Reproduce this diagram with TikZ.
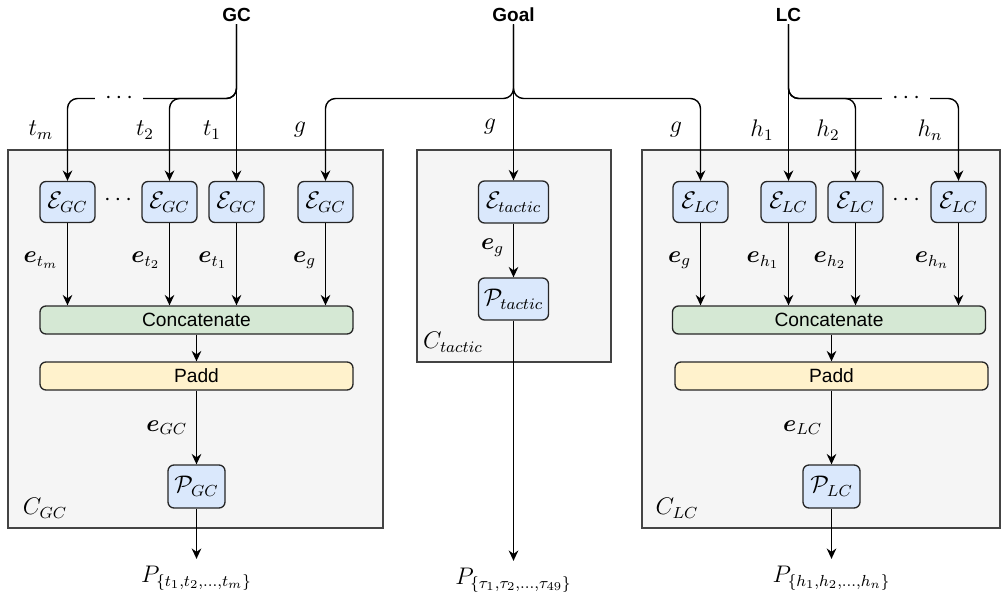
\documentclass[tikz,border=0pt]{standalone}
\usepackage{fontspec}
\usepackage{bm}
\newfontfamily\drawfont{Liberation Sans}
\usetikzlibrary{arrows.meta}

\definecolor{encblue}{HTML}{DAE8FC}
\definecolor{catgreen}{HTML}{D5E8D4}
\definecolor{padyellow}{HTML}{FFF2CC}
\definecolor{boxgray}{HTML}{F5F5F5}
\definecolor{boxline}{HTML}{444444}

\tikzset{
  every node/.style={font=\fontsize{12}{14}\selectfont},
  container/.style={draw=boxline, fill=boxgray, line width=0.65pt, inner sep=0pt},
  enc/.style={draw=black!85, fill=encblue, rounded corners=3pt, line width=0.65pt,
    minimum width=27.5pt, minimum height=20.5pt, inner sep=1pt},
  wide/.style={draw=black!85, rounded corners=3pt, line width=0.65pt,
    minimum width=156.5pt, minimum height=14pt, inner sep=0pt,
    font=\drawfont\fontsize{9.6}{11}\selectfont},
  src/.style={font=\drawfont\bfseries\fontsize{9.5}{11}\selectfont, inner sep=1pt},
  arr/.style={->, line width=0.7pt},
  branch/.style={->, line width=0.7pt, rounded corners=5pt},
  gap/.style={fill=white, inner xsep=5pt, inner ysep=1pt}
}

\begin{document}
\begin{tikzpicture}[x=0.5pt, y=-0.5pt, >={Stealth[length=5.2pt,width=4.8pt]}]
\useasboundingbox (0,0) rectangle (1006,600);

% Containers
\node[container, minimum width=187.5pt, minimum height=189pt] (boxGC) at (195.5,339) {};
\node[container, minimum width=97pt, minimum height=106pt] (boxT) at (514,256) {};
\node[container, minimum width=179pt, minimum height=189pt] (boxLC) at (821,339) {};
\node at (45,508) {$C_{GC}$};
\node at (453,342) {$C_{tactic}$};
\node at (677,508) {$C_{LC}$};

% Sources
\node[src] (GC) at (236.5,15) {GC};
\node[src] (Goal) at (513.5,15) {Goal};
\node[src] (LC) at (788.5,15) {LC};
\coordinate (splitGC) at (236.5,98.5);
\coordinate (splitGoal) at (513.5,98.5);
\coordinate (splitLC) at (788.5,98.5);

% GC encoders
\node[enc] (eGCm) at (67.5,202) {$\mathcal{E}_{GC}$};
\node[enc] (eGCtwo) at (169.5,202) {$\mathcal{E}_{GC}$};
\node[enc] (eGCone) at (236.5,202) {$\mathcal{E}_{GC}$};
\node[enc] (eGCg) at (325.5,202) {$\mathcal{E}_{GC}$};
\node (dotsGCenc) at (118,200) {$\cdots$};
\node[wide, fill=catgreen] (catGC) at (196.5,320) {Concatenate};
\node[wide, fill=padyellow] (padGC) at (196.5,376) {Padd};
\node[enc, minimum width=28.5pt, minimum height=21.5pt] (pGC) at (196.5,486.5) {$\mathcal{P}_{GC}$};
\node (outGC) at (196.5,578) {$P_{\{t_1,t_2,\dots,t_m\}}$};

% Tactic
\node[enc, minimum width=35pt, minimum height=21pt] (etactic) at (513.5,202) {$\mathcal{E}_{tactic}$};
\node[enc, minimum width=35pt, minimum height=21pt] (ptactic) at (513.5,299) {$\mathcal{P}_{tactic}$};
\node (outT) at (513.5,580) {$P_{\{\tau_1,\tau_2,\dots,\tau_{49}\}}$};

% LC encoders
\node[enc] (eLCg) at (700.5,202) {$\mathcal{E}_{LC}$};
\node[enc] (eLCone) at (788.5,202) {$\mathcal{E}_{LC}$};
\node[enc] (eLCtwo) at (855.5,202) {$\mathcal{E}_{LC}$};
\node[enc] (eLCn) at (958.5,202) {$\mathcal{E}_{LC}$};
\node (dotsLCenc) at (906,200) {$\cdots$};
\node[wide, fill=catgreen] (catLC) at (829,320) {Concatenate};
\node[wide, fill=padyellow] (padLC) at (831.5,376) {Padd};
\node[enc, minimum width=28.5pt, minimum height=21.5pt] (pLC) at (831.5,486.5) {$\mathcal{P}_{LC}$};
\node (outLC) at (831.5,578) {$P_{\{h_1,h_2,\dots,h_n\}}$};

% Inputs from GC
\draw[arr] (GC.south) -- (eGCone.north);
\draw[branch] (GC.south) -- (splitGC) -| (eGCtwo.north);
\draw[branch] (GC.south) -- (splitGC) -| (eGCm.north);
\node[gap] (dotsGC) at (119,98) {$\cdots$};

% Inputs from goal
\draw[arr] (Goal.south) -- (etactic.north);
\draw[branch] (Goal.south) -- (splitGoal) -| (eGCg.north);
\draw[branch] (Goal.south) -- (splitGoal) -| (eLCg.north);

% Inputs from LC
\draw[arr] (LC.south) -- (eLCone.north);
\draw[branch] (LC.south) -- (splitLC) -| (eLCtwo.north);
\draw[branch] (LC.south) -- (splitLC) -| (eLCn.north);
\node[gap] (dotsLC) at (906,98) {$\cdots$};

% Input labels
\node at (41,130) {$t_m$};
\node at (145,130) {$t_2$};
\node at (212,130) {$t_1$};
\node at (300,130) {$g$};
\node at (490,127) {$g$};
\node at (676,130) {$g$};
\node at (762,130) {$h_1$};
\node at (828,130) {$h_2$};
\node at (930,130) {$h_n$};

% Embeddings into concatenation
\foreach \e/\lab in {eGCm/t_m, eGCtwo/t_2, eGCone/t_1, eGCg/g} {
  \draw[arr] (\e.south) -- (\e.south |- catGC.north)
    node[pos=0.45, left=1pt] {$\bm{e}_{\lab}$};
}
\foreach \e/\lab in {eLCg/g, eLCone/h_1, eLCtwo/h_2, eLCn/h_n} {
  \draw[arr] (\e.south) -- (\e.south |- catLC.north)
    node[pos=0.45, left=1pt] {$\bm{e}_{\lab}$};
}

% GC head
\draw[arr] (catGC.south) -- (padGC.north);
\draw[arr] (padGC.south) -- (pGC.north) node[pos=0.5, left=1pt] {$\bm{e}_{GC}$};
\draw[arr] (pGC.south) -- (outGC.north);

% Tactic head
\draw[arr] (etactic.south) -- (ptactic.north) node[pos=0.45, left=1pt] {$\bm{e}_{g}$};
\draw[arr] (ptactic.south) -- (outT.north);

% LC head
\draw[arr] (catLC.south -| padLC.north) -- (padLC.north);
\draw[arr] (padLC.south) -- (pLC.north) node[pos=0.5, left=1pt] {$\bm{e}_{LC}$};
\draw[arr] (pLC.south) -- (outLC.north);

\end{tikzpicture}
\end{document}
